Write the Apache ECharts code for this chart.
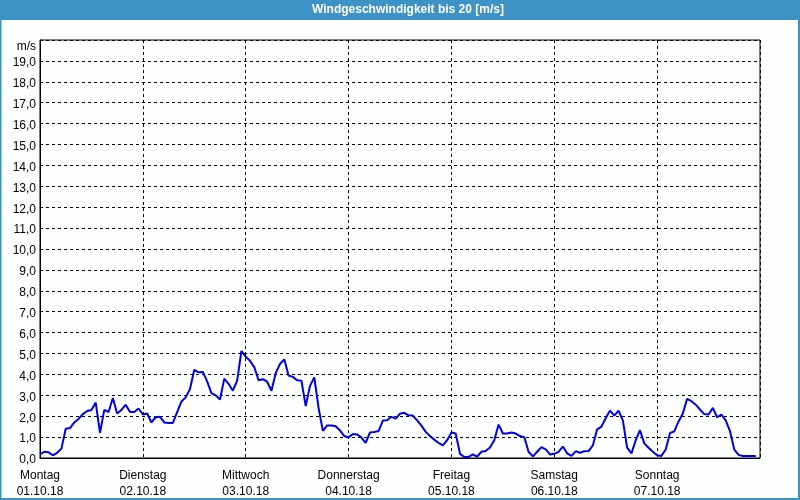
<!DOCTYPE html>
<html>
<head>
<meta charset="utf-8">
<script src="https://cdn.jsdelivr.net/npm/echarts@6/dist/echarts.min.js"></script>
<style>
html,body{margin:0;padding:0;background:#fff;}
#chart{width:800px;height:500px;}
</style>
</head>
<body>
<div id="chart"></div>
<script>
var titleText = 'Windgeschwindigkeit bis 20 [m/s]';
var dayNames = ['Montag','Dienstag','Mittwoch','Donnerstag','Freitag','Samstag','Sonntag'];
var dayDates = ['01.10.18','02.10.18','03.10.18','04.10.18','05.10.18','06.10.18','07.10.18'];
var yUnit = 'm/s';
// hourly wind speed [m/s], Monday 00:00 .. Sunday 23:00
var speedMon = [0.17,0.3,0.27,0.13,0.25,0.45,1.4,1.43,1.7,1.87,2.1,2.25,2.3,2.65,1.2,2.3,2.2,2.87,2.13,2.3,2.55,2.2,2.2,2.37];
var speedTue = [2.08,2.13,1.7,1.95,1.97,1.7,1.68,1.68,2.2,2.7,2.9,3.3,4.22,4.1,4.12,3.67,3.1,3.0,2.8,3.8,3.55,3.22,3.7,5.12];
var speedWed = [4.85,4.65,4.35,3.72,3.77,3.65,3.22,4.06,4.5,4.72,3.95,3.88,3.72,3.7,2.48,3.45,3.86,2.4,1.3,1.56,1.56,1.52,1.32,1.05];
var speedThu = [0.98,1.15,1.13,0.98,0.72,1.22,1.24,1.29,1.79,1.81,1.97,1.88,2.12,2.16,2.04,2.03,1.8,1.55,1.25,1.05,0.88,0.72,0.6,0.85];
var speedFri = [1.22,1.17,0.2,0.05,0.05,0.17,0.06,0.3,0.33,0.5,0.85,1.6,1.17,1.17,1.22,1.17,1.05,1.0,0.3,0.08,0.3,0.52,0.41,0.17];
var speedSat = [0.2,0.29,0.55,0.22,0.1,0.32,0.25,0.32,0.33,0.6,1.37,1.5,1.9,2.27,2.03,2.27,1.8,0.5,0.22,0.85,1.33,0.7,0.49,0.3];
var speedSun = [0.13,0.1,0.41,1.2,1.27,1.75,2.13,2.83,2.72,2.55,2.32,2.1,2.08,2.4,1.95,2.08,1.8,1.29,0.4,0.15,0.1,0.1,0.1,0.1];

var speeds = [].concat(speedMon, speedTue, speedWed, speedThu, speedFri, speedSat, speedSun);
var seriesData = speeds.map(function (v, i) { return [i, v]; });

var chart = echarts.init(document.getElementById('chart'), null, {renderer: 'canvas'});
var font = 'Liberation Sans';
chart.setOption({
  backgroundColor: '#fdfefe',
  animation: false,
  graphic: [
    {type: 'rect', shape: {x: 0, y: 0, width: 800, height: 20}, style: {fill: '#3d93c5'}, z: 0},
    {type: 'rect', shape: {x: 0.5, y: 0.5, width: 798.5, height: 498.5}, style: {fill: 'none', stroke: '#3d93c5', lineWidth: 2}, z: 0},
    {type: 'text', x: 408, y: 4, style: {text: titleText, fill: '#ffffff', font: 'bold 12px ' + font, align: 'center'}, z: 10}
  ],
  grid: {left: 40, right: 40, top: 40, bottom: 41, show: true, borderColor: '#000', borderWidth: 1, backgroundColor: 'transparent'},
  xAxis: {
    type: 'value', min: 0, max: 168, interval: 24,
    axisLine: {show: true, lineStyle: {color: '#000', width: 1}},
    axisTick: {show: false},
    splitLine: {show: true, lineStyle: {color: '#000', type: [3, 3], width: 1}},
    axisLabel: {
      show: true, margin: 10, color: '#000', fontFamily: font, fontSize: 12, lineHeight: 16,
      showMaxLabel: false,
      formatter: function (v) {
        var i = Math.round(v / 24);
        if (i < 0 || i >= dayNames.length) return '';
        return dayNames[i] + '\n' + dayDates[i];
      }
    }
  },
  yAxis: {
    type: 'value', min: 0, max: 20, interval: 1,
    axisLine: {show: true, lineStyle: {color: '#000', width: 1}},
    axisTick: {show: false},
    splitLine: {show: true, lineStyle: {color: '#000', type: [3, 3], width: 1}},
    axisLabel: {
      show: true, margin: 4, color: '#000', fontFamily: font, fontSize: 12,
      padding: [4, 0, 0, 0],
      formatter: function (v) {
        if (v === 20) return '{u|' + yUnit + '}';
        return v.toFixed(1).replace('.', ',');
      },
      rich: {u: {fontFamily: font, fontSize: 12, color: '#000', padding: [10, 0, 0, 0]}}
    }
  },
  series: [{
    type: 'line', data: seriesData, showSymbol: false, symbol: 'none',
    lineStyle: {color: '#0000e6', width: 2}, z: 5
  }]
});
</script>
</body>
</html>
